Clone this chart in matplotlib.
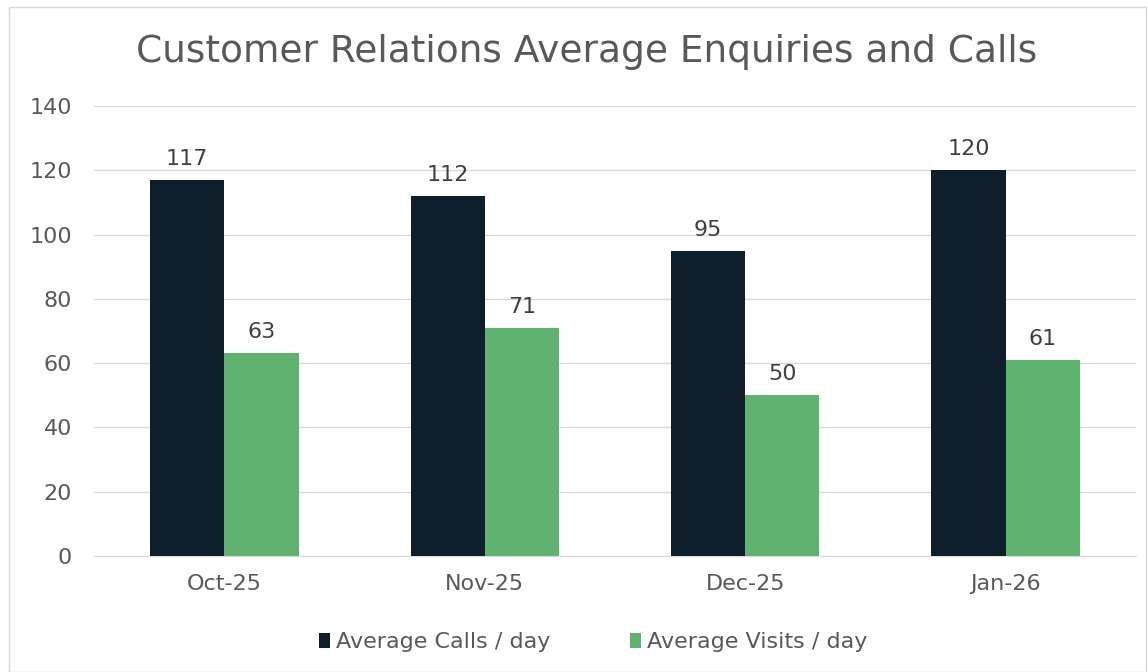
#!/usr/bin/env python3
# customer_relations.py

import matplotlib.pyplot as plt
import numpy as np
from matplotlib.patches import Rectangle

months = ["Oct-25", "Nov-25", "Dec-25", "Jan-26"]
calls = [117, 112, 95, 120]
visits = [63, 71, 50, 61]
series_names = ["Average Calls / day", "Average Visits / day"]

plt.rcParams["font.family"] = ["DejaVu Sans"]


def plot(ax):
    x = np.arange(len(months))
    w = 0.285
    dark = "#0f1e2b"
    green = "#5fb26f"

    b1 = ax.bar(x - w / 2, calls, w, color=dark, label=series_names[0], zorder=3)
    b2 = ax.bar(x + w / 2, visits, w, color=green, label=series_names[1], zorder=3)

    for bars in (b1, b2):
        ax.bar_label(bars, padding=8, fontsize=16, color="#404040")

    ax.set_xlim(-0.5, len(months) - 0.5)
    ax.set_ylim(0, 140)
    ax.set_yticks(range(0, 141, 20))
    ax.set_xticks(x)
    ax.set_xticklabels(months)
    ax.tick_params(axis="both", length=0, labelsize=16, labelcolor="#595959")
    ax.tick_params(axis="x", pad=13)
    ax.tick_params(axis="y", pad=16)

    ax.grid(axis="y", color="#d9d9d9", linewidth=1, zorder=0)
    for s in ("top", "right", "left"):
        ax.spines[s].set_visible(False)
    ax.spines["bottom"].set_color("#d9d9d9")

    ax.figure.text(0.511, 0.923, "Customer Relations Average Enquiries and Calls",
                   fontsize=27, color="#595959", ha="center", va="center")

    ax.legend(loc="upper center", bbox_to_anchor=(0.479, -0.125), ncol=2,
              frameon=False, fontsize=16, labelcolor="#595959",
              handlelength=0.5, handleheight=0.65, handletextpad=0.25,
              columnspacing=3.6)


def main():
    fig = plt.figure(figsize=(11.48, 6.72), dpi=100)
    ax = fig.add_axes([0.082, 0.1726, 0.9075, 0.6697])
    plot(ax)
    fig.patches.append(Rectangle((0.008, 0.0), 0.99, 0.99, transform=fig.transFigure,
                                 fill=False, edgecolor="#d9d9d9", linewidth=1))
    fig.savefig("out.png", dpi=100)


if __name__ == "__main__":
    main()
